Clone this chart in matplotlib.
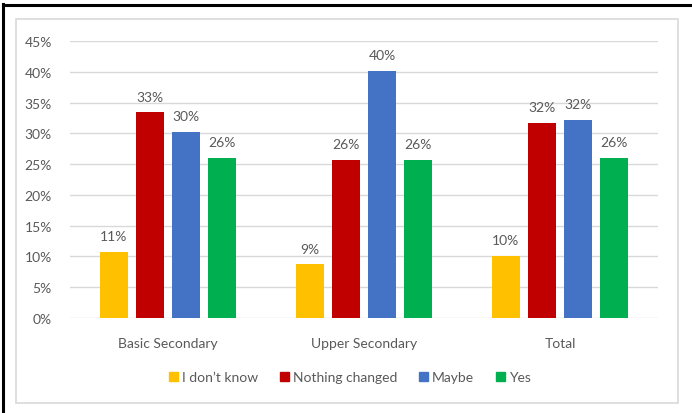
import matplotlib
matplotlib.use("Agg")
import matplotlib.pyplot as plt
from matplotlib.patches import Rectangle
from matplotlib.lines import Line2D
import numpy as np

categories = ["Basic Secondary", "Upper Secondary", "Total"]
series_names = ["I don\u2019t know", "Nothing changed", "Maybe", "Yes"]
dont_know = [10.7, 8.7, 10.1]
nothing_changed = [33.4, 25.7, 31.7]
maybe = [30.2, 40.1, 32.2]
yes = [26.0, 25.7, 26.0]
y_ticks = [0, 5, 10, 15, 20, 25, 30, 35, 40, 45]

colors = ["#FFC000", "#C00000", "#4472C4", "#00B050"]
text_color = "#595959"

plt.rcParams["font.family"] = ["Lato", "DejaVu Sans"]

W, H = 692, 414
fig = plt.figure(figsize=(W / 100, H / 100), dpi=100)
fig.patch.set_facecolor("white")

# outer frame: heavy black top/left edges, light gray chart-area box
fig.add_artist(Line2D([3 / W, 3 / W], [0, 1 - 5 / H], color="black", lw=2.2, transform=fig.transFigure))
fig.add_artist(Line2D([3 / W, 1], [1 - 6 / H, 1 - 6 / H], color="black", lw=2.2, transform=fig.transFigure))
fig.add_artist(Rectangle((16 / W, 1 - 404 / H), (678 - 16) / W, (404 - 20) / H,
                         fill=False, edgecolor="#D9D9D9", lw=1.2, transform=fig.transFigure))

ax = fig.add_axes([70 / W, 1 - 319 / H, (658 - 70) / W, (319 - 42) / H])
ax.set_xlim(-0.5, 2.5)
ax.set_ylim(0, 45)

x = np.arange(len(categories))
step = 0.184
width = 0.143
all_series = [dont_know, nothing_changed, maybe, yes]
for i, (vals, name, c) in enumerate(zip(all_series, series_names, colors)):
    pos = x + (i - 1.5) * step
    bars = ax.bar(pos, vals, width=width, color=c, label=name, zorder=3)
    for xp, v in zip(pos, vals):
        ax.text(xp, v + 1.6, f"{v:.0f}%", ha="center", va="bottom",
                fontsize=10, color=text_color)

ax.set_yticks(y_ticks)
ax.set_yticklabels([f"{t}%" for t in y_ticks], fontsize=10, color=text_color)
ax.set_xticks(x)
ax.set_xticklabels(categories, fontsize=10, color=text_color)
ax.tick_params(axis="both", length=0)
ax.tick_params(axis="y", pad=13)
ax.tick_params(axis="x", pad=14)
ax.grid(axis="y", color="#D9D9D9", lw=1, zorder=0)
for s in ax.spines.values():
    s.set_visible(False)

handles = [Rectangle((0, 0), 1, 1, color=c) for c in colors]
fig.legend(handles, series_names, loc="center", bbox_to_anchor=(350 / W, 1 - 378 / H),
           ncol=4, frameon=False, fontsize=10, handlelength=0.6, handleheight=0.6,
           handletextpad=0.3, columnspacing=1.6, labelcolor=text_color)

fig.savefig("out.png", dpi=100)
